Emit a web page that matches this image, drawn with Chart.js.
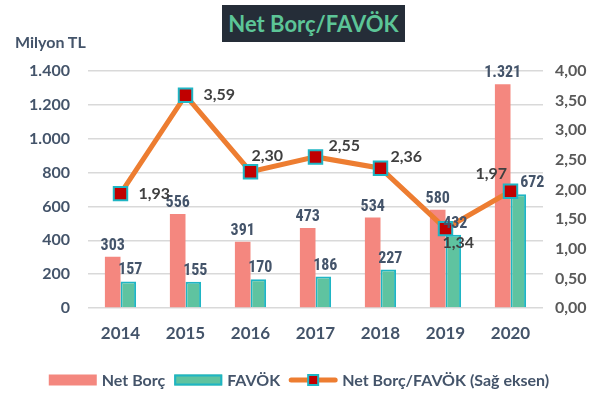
<!DOCTYPE html>
<html lang="tr">
<head>
<meta charset="UTF-8" />
<title>Net Borç/FAVÖK</title>
<script src="https://cdn.jsdelivr.net/npm/chart.js@4.4.1/dist/chart.umd.min.js"></script>
<style>
  body { margin: 0; background: #fff; }
  .wrap { position: relative; width: 605px; height: 414px; }
  .title {
    position: absolute; left: 222px; top: 5px; width: 183px; height: 37px;
    background: #252d38; color: #5cc597;
    font: bold 22px Lato, "Open Sans", sans-serif;
    line-height: 37px; text-align: center;
  }
  .unit {
    position: absolute; left: 15px; top: 32px;
    color: #44546a; font: bold 16px Lato, sans-serif;
  }
  canvas { position: absolute; left: 0; top: 0; }
</style>
</head>
<body>
<div class="wrap">
  <canvas id="chart" width="605" height="414"></canvas>
  <div class="title">Net Borç/FAVÖK</div>
  <div class="unit">Milyon TL</div>
</div>
<script>
  //data
  const years = ['2014', '2015', '2016', '2017', '2018', '2019', '2020'];
  const netBorc = [303, 556, 391, 473, 534, 580, 1321];
  const favok = [157, 155, 170, 186, 227, 432, 672];
  const oran = [1.93, 3.59, 2.30, 2.55, 2.36, 1.34, 1.97];

  // label nudges for the ratio line (dx, dy from the marker)
  const oranLabelShift = [[18, 0], [18, 0], [1, -16], [13, -11], [10, -11], [-3, 14], [-35, -17]];
  const favokLabelShift = [0, 0, 0, 0, 0, 0, 12];

  const C_NET = '#f4877f';
  const C_FAV = '#5fc3a0';
  const C_FAV_B = '#1fb5c4';
  const C_LINE = '#ed7d31';
  const C_MARK = '#c00000';
  const C_TXT = '#44546a';

  const numFmt = (v) => String(v).replace(/\B(?=(\d{3})+(?!\d))/g, '.');
  const decFmt = (v) => v.toFixed(2).replace('.', ',');

  const labelPlugin = {
    id: 'valueLabels',
    afterDatasetsDraw(chart) {
      const ctx = chart.ctx;
      ctx.save();
      // bar labels
      ctx.font = 'bold 16px "Liberation Sans Narrow", "Roboto Condensed", Roboto, sans-serif';
      ctx.fillStyle = C_TXT;
      ctx.textAlign = 'center';
      ctx.textBaseline = 'bottom';
      chart.getDatasetMeta(0).data.forEach((bar, i) => {
        ctx.fillText(numFmt(netBorc[i]), bar.x, bar.y - 3);
      });
      chart.getDatasetMeta(1).data.forEach((bar, i) => {
        ctx.fillText(numFmt(favok[i]), bar.x + 2 + favokLabelShift[i], bar.y - 3);
      });
      // line labels
      ctx.font = 'bold 16px Lato, sans-serif';
      ctx.fillStyle = '#404040';
      ctx.textAlign = 'left';
      ctx.textBaseline = 'middle';
      chart.getDatasetMeta(2).data.forEach((pt, i) => {
        const s = oranLabelShift[i];
        ctx.fillText(decFmt(oran[i]), pt.x + s[0], pt.y + s[1]);
      });
      ctx.restore();
    }
  };

  const legendPlugin = {
    id: 'customLegend',
    afterDraw(chart) {
      const ctx = chart.ctx;
      const names = ['Net Borç', 'FAVÖK', 'Net Borç/FAVÖK (Sağ eksen)'];
      ctx.save();
      ctx.font = 'bold 16px Lato, sans-serif';
      const sw = 48, gap = 5, itemGap = 9;
      let total = 0;
      names.forEach((n, i) => {
        total += sw + gap + ctx.measureText(n).width + (i < names.length - 1 ? itemGap : 0);
      });
      let x = 299 - total / 2;
      const y = 380;
      names.forEach((n, i) => {
        if (i === 0) {
          ctx.fillStyle = C_NET;
          ctx.fillRect(x, y - 5.5, sw, 11);
        } else if (i === 1) {
          ctx.fillStyle = C_FAV;
          ctx.fillRect(x, y - 5.5, sw, 11);
          ctx.strokeStyle = C_FAV_B;
          ctx.lineWidth = 2;
          ctx.strokeRect(x + 1, y - 4.5, sw - 2, 9);
        } else {
          ctx.strokeStyle = C_LINE;
          ctx.lineWidth = 5;
          ctx.lineCap = 'round';
          ctx.beginPath();
          ctx.moveTo(x + 2, y);
          ctx.lineTo(x + sw - 2, y);
          ctx.stroke();
          ctx.fillStyle = C_MARK;
          ctx.fillRect(x + sw / 2 - 5, y - 5, 10, 10);
          ctx.strokeStyle = C_FAV_B;
          ctx.lineWidth = 2;
          ctx.strokeRect(x + sw / 2 - 5, y - 5, 10, 10);
        }
        x += sw + gap;
        ctx.fillStyle = C_TXT;
        ctx.textAlign = 'left';
        ctx.textBaseline = 'middle';
        ctx.fillText(n, x, y + 1);
        x += ctx.measureText(n).width + itemGap;
      });
      ctx.restore();
    }
  };

  const data = {
    labels: years,
    datasets: [
      {
        type: 'bar',
        label: 'Net Borç',
        data: netBorc,
        backgroundColor: C_NET,
        yAxisID: 'y',
        order: 2,
        categoryPercentage: 0.48,
        barPercentage: 1
      },
      {
        type: 'bar',
        label: 'FAVÖK',
        data: favok,
        backgroundColor: C_FAV,
        borderColor: C_FAV_B,
        borderWidth: 2,
        yAxisID: 'y',
        order: 2,
        categoryPercentage: 0.48,
        barPercentage: 1
      },
      {
        type: 'line',
        label: 'Net Borç/FAVÖK (Sağ eksen)',
        data: oran,
        borderColor: C_LINE,
        borderWidth: 5,
        pointStyle: 'rect',
        pointRadius: 9.5,
        pointBackgroundColor: C_MARK,
        pointBorderColor: C_FAV_B,
        pointBorderWidth: 2,
        yAxisID: 'y1',
        order: 1
      }
    ]
  };

  const config = {
    type: 'bar',
    data: data,
    options: {
      responsive: false,
      animation: false,
      layout: { padding: { top: 71, left: 0, right: 0, bottom: 0 } },
      plugins: {
        legend: { display: false },
        tooltip: { enabled: false }
      },
      scales: {
        x: {
          grid: { display: false, drawTicks: false },
          border: { display: false },
          ticks: { color: C_TXT, font: { family: 'Lato', size: 17, weight: 'bold' }, padding: 15 },
          afterFit: (s) => { s.height = 106; }
        },
        y: {
          position: 'left',
          min: 0,
          max: 1400,
          grid: { color: '#d9d9d9', lineWidth: 1.5, drawTicks: false },
          border: { display: false },
          ticks: {
            stepSize: 200,
            padding: 18,
            color: C_TXT,
            font: { family: 'Lato', size: 16, weight: 'bold' },
            callback: (v) => numFmt(v)
          },
          afterFit: (s) => { s.width = 88; }
        },
        y1: {
          position: 'right',
          min: 0,
          max: 4,
          grid: { display: false, drawTicks: false },
          border: { display: false },
          ticks: {
            stepSize: 0.5,
            padding: 12,
            color: '#595959',
            font: { family: 'Lato', size: 16, weight: 'bold' },
            callback: (v) => decFmt(v)
          },
          afterFit: (s) => { s.width = 62; }
        }
      }
    },
    plugins: [labelPlugin, legendPlugin]
  };

  //init
  const ctx = document.getElementById('chart');
  const chart = new Chart(ctx, config);
</script>
</body>
</html>
